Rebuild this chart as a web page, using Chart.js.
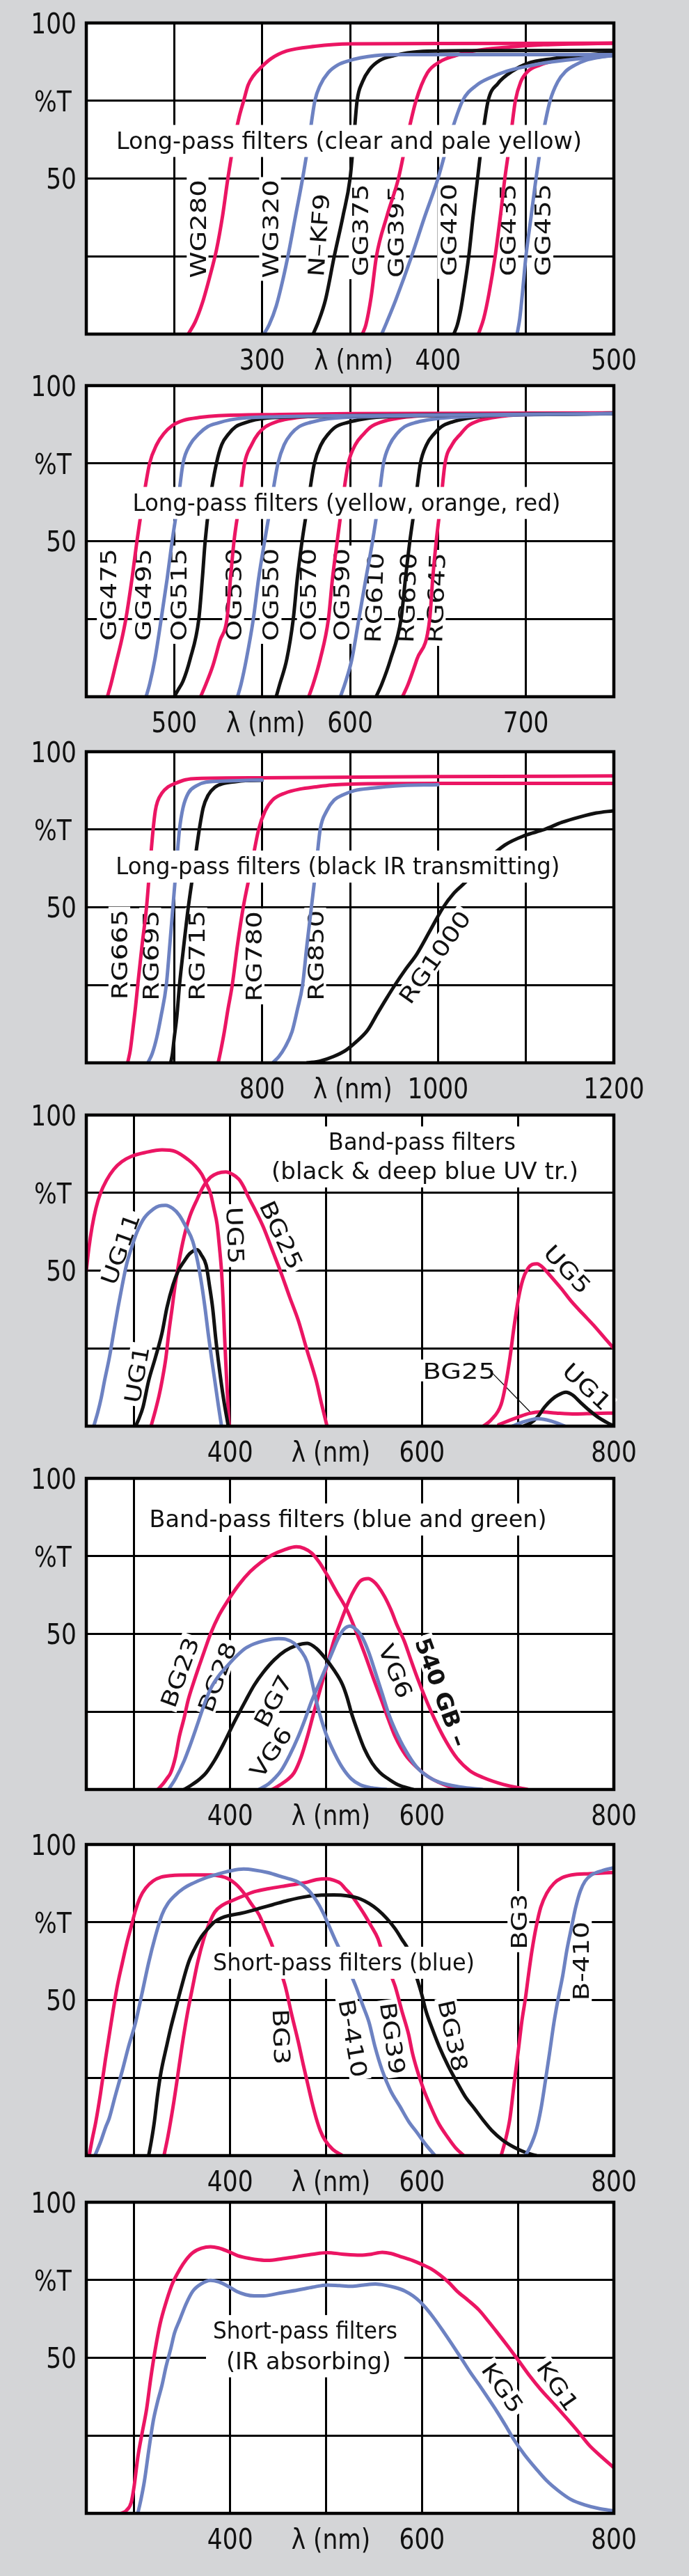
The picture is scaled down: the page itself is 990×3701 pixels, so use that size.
<!DOCTYPE html>
<html>
<head>
<meta charset="utf-8">
<script src="https://cdn.jsdelivr.net/npm/chart.js@4.4.0/dist/chart.umd.min.js"></script>
<style>
  body { margin: 0; background: #d4d5d7; width: 990px; height: 3701px; position: relative; overflow: hidden; }
  canvas { position: absolute; left: 0; }
</style>
</head>
<body>
<canvas id="p1" width="990" height="570" style="top:0px"></canvas>
<canvas id="p2" width="990" height="570" style="top:521px"></canvas>
<canvas id="p3" width="990" height="570" style="top:1047px"></canvas>
<canvas id="p4" width="990" height="570" style="top:1569px"></canvas>
<canvas id="p5" width="990" height="570" style="top:2091px"></canvas>
<canvas id="p6" width="990" height="570" style="top:2617px"></canvas>
<canvas id="p7" width="990" height="570" style="top:3131px"></canvas>
<script>
// ---- axes / tick labels ----
const Y_GRID = [0, 25, 50, 75, 100];
const Y_TICKS = [100, 75, 50];
const Y_LABELS = ['100', '%T', '50'];

const P1_GRID = [200, 250, 300, 350, 400, 450, 500];
const P1_TICKS = [300, 352, 400, 500];
const P1_TICK_LABELS = ['300', 'λ (nm)', '400', '500'];
const P2_GRID = [450, 500, 550, 600, 650, 700, 750];
const P2_TICKS = [500, 552, 600, 700];
const P2_TICK_LABELS = ['500', 'λ (nm)', '600', '700'];
const P3_GRID = [600, 700, 800, 900, 1000, 1100, 1200];
const P3_TICKS = [800, 903, 1000, 1200];
const P3_TICK_LABELS = ['800', 'λ (nm)', '1000', '1200'];
const VIS_GRID = [250, 300, 400, 500, 600, 700, 800];
const VIS_TICKS = [400, 505, 600, 800];
const VIS_TICK_LABELS = ['400', 'λ (nm)', '600', '800'];

// ---- curves: [wavelength nm, %T] ----
// long-pass, clear and pale yellow
const WG280 = [[258,0],[262,4],[266,10],[270,18],[274,27],[277.5,38],[280.5,50],[284,62],[287,70],[289.5,75],[292,80],[295,83],[299,85.5],[305,88.5],[314,91],[330,92.5],[350,93.3],[400,93.4],[500,93.5]];
const WG320 = [[301,0],[304,3],[308,9],[312,18],[315,26],[319,38],[323,50],[326.5,62],[330,75],[333,80],[337.5,84],[343,86.5],[349,87.8],[356,88.8],[364,89.5],[380,89.8],[500,89.8]];
const NKF9 = [[329,0],[332,4],[336,11],[341,25],[346,38],[350,50],[352,62],[354,75],[357,81],[361,85],[367,88],[375,89.5],[389,90.8],[420,91.1],[500,91.2]];
const GG375 = [[357,0],[359,3],[362,12],[365,25],[371,38],[377.5,50],[382,62],[387.5,75],[394,84],[401,87.5],[410,89.5],[420,91],[439,92.2],[460,93],[500,93.5]];
const GG395 = [[368,0],[371,4],[376,11],[385,25],[392,37],[400,50],[406,62],[414,75],[422,80],[430,82.5],[439,84.5],[450,86],[461,87.2],[480,88.5],[500,89.5]];
const GG420 = [[409,0],[411,3],[413,8],[415,15],[417.5,25],[420,38],[422.5,50],[425,62],[428.5,75],[434,80.5],[442,84.4],[451,87],[465,88.5],[480,89.5],[500,90.5]];
const GG435 = [[423,0],[426,5],[429,13],[432.5,25],[435.5,38],[438,50],[441,62],[444,75],[447,81],[451,84.4],[458,86.5],[466,87.8],[480,89],[500,90]];
const GG455 = [[445,0],[446.5,5],[448,13],[450,25],[453,38],[455.75,50],[459,62],[463.75,75],[468,81],[472.5,84.4],[478,86.5],[484,88],[492,89],[500,89.7]];

// long-pass, yellow orange red
const GG475 = [[462,0],[464,4],[467,11],[470,18],[472.5,25],[476,38],[478.8,50],[482,62],[486,75],[490,81],[494,84.5],[499,87.2],[505,88.8],[515,89.8],[525,90.3],[560,90.7],[600,91],[750,91.2]];
const GG495 = [[484,0],[486,4],[489,12],[492.6,25],[496,38],[498.8,50],[502,62],[505,75],[509,81],[514,84.5],[519,86.8],[525,88],[532,89],[540,89.6],[560,90],[600,90.3],[750,91]];
const OG515 = [[500,0],[502,2],[505,5],[509,12],[514,25],[516,38],[517.6,50],[520,62],[524,75],[527,81],[531,84.5],[535,86.8],[540,88],[546,89],[553,89.6],[570,90],[750,91]];
const OG530 = [[515,0],[518,4],[522,10],[526,18],[530,25],[532,38],[534,50],[537,62],[540,75],[544,81],[547.7,84.5],[552,86.8],[557.7,88.3],[565,89.3],[575,90],[600,90.5],[750,91]];
const OG550 = [[536,0],[538,4],[541,12],[545,25],[548,38],[551.4,50],[555,62],[559,75],[562.5,81],[566.5,84.5],[571,86.8],[577.7,88.2],[587,89.3],[598,89.8],[620,90.2],[750,91]];
const OG570 = [[558,0],[560,4],[564,12],[567.7,25],[570,38],[572.7,50],[576,62],[579.7,75],[583.5,81],[587.7,84.5],[592,86.8],[599,88.2],[607,89.2],[615,89.8],[640,90.3],[750,91]];
const OG590 = [[576.5,0],[579,4],[583,12],[587.7,25],[590,38],[592.7,50],[595.5,62],[599,75],[603,81],[607.8,84.5],[612,86.8],[617.8,88.3],[627,89.5],[638,90.2],[660,90.6],[750,91]];
const RG610 = [[594.5,0],[597,4],[601,12],[605,25],[609,38],[612.8,50],[616,62],[619,75],[622.5,81],[626.6,84.5],[631,86.8],[637.8,88.2],[647,89.2],[658,89.8],[680,90.4],[750,91]];
const RG630 = [[614.8,0],[618,4],[623,12],[629,25],[631.5,38],[634,50],[637,62],[640,75],[643.5,81],[647.8,84.5],[652,86.8],[658,88.3],[666,89.4],[675,90.1],[700,90.7],[750,91]];
const RG645 = [[629.8,0],[633,4],[638,12],[645.3,25],[647,38],[649,50],[651.5,62],[654,75],[658,81],[662.9,84.5],[667,87],[673,88.7],[681,89.7],[690,90.4],[710,90.8],[750,91.2]];

// long-pass, black IR transmitting
const RG665 = [[647,0],[650,4],[653.5,12],[656,18],[658.5,25],[663.5,38],[668.5,50],[672,62],[676,75],[678.5,81],[681,84],[686,86.7],[693,88.7],[701,89.8],[713,91],[726,91.4],[800,91.6],[1000,92],[1200,92.2]];
const RG695 = [[670,0],[675,3],[680,8],[685,15],[691,25],[695,38],[698.5,50],[702,62],[706,75],[710,82],[716,86.7],[725,89],[736,90.2],[760,90.6],[800,90.9]];
const RG715 = [[696,0],[698,3],[700,8],[703,15],[706,25],[711,38],[716,50],[722,62],[728.5,75],[733,82],[738.5,86],[746,88.5],[756,89.8],[770,90.4],[781,90.7],[800,90.8]];
const RG780 = [[750,0],[753,4],[757,10],[761,17],[766,25],[772,38],[778.5,50],[787,62],[796,75],[803.5,81],[812,84.5],[826,86.7],[843,88],[861,88.7],[880,89.3],[901,89.6],[1000,89.8],[1200,89.8]];
const RG850 = [[812,0],[819,2],[826,5],[834,10],[840,17],[846,25],[851,38],[856,50],[861,62],[866,75],[873.5,81],[882,84.5],[891,86],[905,87.5],[926,88.3],[951,89],[1000,89.4]];
const RG1000 = [[851,0],[866,0.6],[881,2],[895,4],[906,6.5],[920,10.5],[931,15.8],[941,20.5],[951,25],[963,30],[976,35],[991,42.5],[1006,50],[1018,54.5],[1031,58],[1053,64.5],[1076,70],[1098,73],[1121,75],[1141,77.3],[1161,79],[1180,80.3],[1199,81]];

// band-pass, black & deep blue UV transmitting
const UG5 = [[250,50],[252.6,57],[256,64],[260,70],[264.7,74.8],[271,79],[278.5,82.5],[287,85],[296.8,86.7],[312,88],[329,88.8],[342.7,88.3],[356.5,85.6],[364,83.5],[370.3,81],[375,78],[379.5,74.8],[383,70],[386.4,64.8],[389,57],[391,49.7],[393,38],[394,30],[395.5,20],[397,10.8],[399,0]];
const UG5_IR = [[664,0],[672,2],[682.5,7],[687,13],[691.7,22],[696,32],[700.9,41.6],[705,47],[710,50.5],[715,52],[720,52.2],[726,51],[733,48.6],[745,44.3],[756,40],[768,36],[779,32.4],[790,28.5],[800,25]];
const BG25 = [[317.5,0],[322,5],[326,10],[329,14.6],[333,22],[336,30],[339.5,38],[342.7,45.5],[347,53.5],[352,61],[358,67.5],[365.7,73],[372,77],[379.5,80],[387,81.3],[395.5,81.7],[402,81],[409,79.4],[414,77],[418.5,74],[426,69.5],[434.6,64],[444,56.5],[453,49.3],[462,41.5],[471,34],[480,24.5],[489.7,14.6],[495,7.5],[501,0]];
const BG25_IR = [[680,0.5],[690,1.7],[701,3],[712,4.1],[723.5,4.6],[740,4.2],[760,3.9],[780,4.1],[800,4.2]];
const UG11 = [[257.8,0],[262,4.5],[265.5,9],[269,14.6],[274,22],[278.5,30],[283,38],[287.6,45.5],[292,52],[296.8,57],[303,62.5],[310.6,67],[320,69.8],[326,70.8],[332.6,71],[340,70],[347,67.8],[354,64],[361,59.4],[366,53],[370.3,45.5],[374,37.5],[377,30],[380.5,22],[384,14.6],[387.5,7],[391,0]];
const UG11_IR = [[694,0],[705,1.3],[714,2.1],[721,2.4],[730,2],[740,1.1],[749,0]];
const UG1 = [[301.4,0],[305,2.5],[309,6],[315,14.6],[322,22],[329,30],[334,38],[340.5,45.5],[346,50],[352,53],[358,55.5],[365.7,56.7],[370,55],[375,51.7],[378.5,45],[381.8,37.8],[385,28],[388.7,18.5],[393,9],[398,0]];
const UG1_IR = [[706,0],[713,1],[720,2.8],[728,6.2],[735,8.5],[742,10],[750,10.9],[757,10],[765,7.7],[774,5.2],[783,3],[792,1.3],[800,0]];
const BG25_LEADER = [[672.9,17.2],[713.6,4.3]];

// band-pass, blue and green
const BG23 = [[324.4,0],[330,1.8],[334,3.5],[338,5.4],[343,10.5],[347,17],[352,23],[356,28.5],[362,34.5],[368,40],[374,45.3],[379.5,50],[388,55.8],[397.8,60.8],[409,65.8],[420.8,70],[432,73],[443.8,75.4],[456,77],[469,78],[477,77.5],[485,76],[493,73],[501,69],[511,63.5],[521.8,57.7],[531,51],[540,43.8],[549,36],[558,28.5],[565,22.5],[572,17],[583,11],[595,7],[606,4.2],[617.5,2.3],[628,1],[640,0]];
const BG28 = [[335.8,0],[343,3.5],[352,9.2],[358,14],[365.7,20.8],[372,26.5],[379.5,32.3],[388,36.5],[397.8,40],[407,43],[416,45.4],[425,46.8],[435,47.8],[450.6,48.5],[458,48.3],[466.7,47],[474,44.5],[480.5,40.8],[485,35],[489.7,28.5],[495,22.5],[501,17],[509,11.5],[517,7],[526,3.5],[535.6,1.5],[548,0.5],[563,0]];
const BG7 = [[352,0],[360,1.5],[368,3.3],[375,5.4],[384,9.5],[393,14.6],[404,21.5],[416,28.5],[425,33.5],[434.6,37.7],[446,41.7],[457.5,44.6],[469,46.3],[480.5,47],[490,45.3],[498.8,42.3],[508,38.5],[517,33.8],[522,29.5],[526.4,24.6],[532,19.5],[540,13],[548,8.5],[556,5.5],[563,3.8],[575,1.5],[590.6,0]];
const VG6 = [[430,0],[440,1.8],[447,3.8],[453,6],[462,11],[471,17],[478,22.5],[485,28.5],[492,33.5],[498.8,38.5],[506,43.8],[512.6,48.5],[518,51.3],[525,52.5],[530,51.8],[535.6,50],[540,47.5],[544.8,43.8],[551,38],[558.5,30.8],[565,24.5],[572,19.2],[583,12.5],[595,7],[606,4.2],[618,2.3],[640,0.8],[663,0]];
const GB540 = [[443.8,0],[452,1.5],[460,3.2],[466.7,5.4],[474,10.5],[480.5,17],[487,24.5],[494,32.3],[501,40],[508,47.7],[516,54.5],[524,60.8],[530,64.5],[535.6,67],[544,67.8],[549,67],[554,65.4],[561,62],[567.7,57.7],[574,52.8],[581.5,47.7],[588,42],[595,36],[604,29],[613.6,22.3],[625,15.5],[636.6,10],[650,6],[664,3.8],[685,1.6],[710,0]];

// short-pass, blue
const BG3 = [[253,0],[256,5],[260,11],[264.7,19.7],[270,31],[276,42.8],[282,54],[287.6,62],[292,68],[296.8,73.6],[301,78.5],[306,82.9],[312,86],[319.8,88.3],[328,89.5],[338,90],[360,90.2],[379.5,90.2],[390,89.8],[398,89],[405,87.5],[410,86],[416,83.7],[423,80.5],[430,77.5],[437,72.5],[443.8,67.5],[450,61.5],[457.5,54.4],[464,45.5],[471,36.6],[476,29.5],[480.5,23.5],[485,17.5],[489.7,12],[494,8],[498.8,5],[507,2],[517,0]];
const BG3_IR = [[682.5,0],[687,5],[691.7,12],[696,23],[700.9,35],[704,43],[707.8,50.5],[711,58],[714.7,66],[719,73.5],[723.8,79.8],[730,84.3],[737.6,87.5],[746,89.3],[756,90.2],[775,90.6],[800,91]];
const B410 = [[259,0],[265,4.5],[270,9],[273.9,12],[280,19],[287.6,27.4],[294,35],[301.4,42.8],[308,52],[315,62],[322,70.5],[329,77.5],[335,81],[342.7,83.7],[351,85.8],[361,87.5],[374,89.2],[388.7,90.6],[400,91.5],[414,92.1],[425,91.8],[439,91],[455,89.5],[471,87.9],[481,85.5],[489.7,82],[497,78],[503.4,73.6],[510,69],[517,64.4],[524,59.5],[531,54.4],[538,48.5],[544.8,42.8],[551,35],[558.5,27.4],[567,21],[577,15.8],[586,11],[595,7.3],[604,3.5],[613.6,0]];
const B410_IR = [[707.8,0],[713,3],[719,8],[724,15],[728.4,23.5],[733,33],[737.6,42.8],[742,50.5],[746.8,58],[751,66],[756,73.6],[760,79.5],[765,85],[770,88.2],[776.6,90.2],[788,91.6],[800,92.5]];
const BG39 = [[331,0],[335,6],[340.5,15.8],[345,25],[349.7,35],[355,45],[361,54.4],[366,62],[372.6,69.8],[378,74.5],[384,78.3],[392,80.5],[402.4,82],[414,83.5],[425,84.8],[440,85.8],[457.5,86.7],[470,87.3],[480.5,87.9],[490,88.7],[501,89],[508,88.5],[515,87.5],[520,85.8],[526.4,83.7],[533,80.8],[540,77.5],[547,73.8],[554,69.8],[558,66],[563,62],[567,58.5],[572,54.4],[579,46.5],[586,39],[590,33],[595,27.4],[602,21],[609,15.8],[617,10.5],[627,5.8],[635,2.5],[643.5,0]];
const BG38 = [[315,0],[318,5],[321,11],[324.4,19.7],[328,27],[333.6,35],[338,41],[342.7,46.6],[349,54],[356.5,62],[363,66.5],[370.3,70.5],[377,73],[384,75.2],[391,76.4],[398,77.1],[410,77.8],[420.8,78.6],[432,79.6],[443.8,80.6],[460,82],[480.5,83.3],[495,83.7],[508,83.8],[522,83.5],[535.6,82.5],[545,81],[554,79],[563,76.3],[572,72.9],[579,69.5],[586,65.9],[590,61.5],[595,56.7],[600,51.5],[604,46.6],[611,40.5],[618,35],[627,29],[636.6,23.5],[645,19],[655,15],[664,11.3],[673,8],[684,5],[696,2.7],[708,1],[719,0]];

// short-pass, IR absorbing
const KG1 = [[286.7,0],[292,1],[296.8,3.5],[300,9],[303.7,18],[308,25.5],[312.9,33.6],[317,43],[322,52.9],[327,61],[333.6,68.3],[340,74],[347.4,78.4],[354,81.5],[361,83.8],[370,85.2],[379.5,85.7],[388,85.3],[397.8,84.2],[408,82.8],[420.8,81.9],[430,81.5],[439,81.3],[455,81.9],[471,82.6],[486,83.3],[501,83.8],[518,83.3],[535.6,83],[547,83.3],[558.5,83.9],[568,83.5],[577,82.6],[590,81.3],[600,80],[610,78.5],[618,76.8],[628,74.2],[636.6,71.4],[648,68.5],[659.6,65.3],[669,61.8],[678,58.3],[690,53.5],[700.9,49],[712,44.3],[723.8,39.8],[738,35],[751,30.5],[763,26.2],[774,22],[787,18.2],[800,14.7]];
const KG5 = [[303.7,0],[307,4.5],[310.6,10.4],[315,20],[319.8,29.7],[324,35.5],[329,41.3],[333,47],[338,52.9],[342,58],[347.4,62.2],[354,67.3],[361,71.4],[370,73.8],[379.5,74.9],[388,74.4],[397.8,73],[407,71.3],[416,70.3],[425,69.9],[434.6,69.9],[452,70.8],[471,71.8],[486,72.7],[501,73.4],[514,73.2],[526.4,73],[539,73.4],[551.5,73.7],[562,73.3],[572,72.6],[582,71.5],[590.6,69.9],[598,68],[604,66],[613,62.5],[622.6,58.3],[632,54],[641,49.8],[650,45.5],[659.6,41.3],[669,37],[678,32.8],[687,28.3],[696,23.6],[707,18.8],[719,14.3],[730,10.5],[742,7.3],[755,4.5],[769.7,2.7],[785,1.5],[800,0.8]];

// ---- annotations: [text, nm, %T, rotation] ----
const P1_LABELS = [['WG280',263.3,33.8,-90],['WG320',304.5,33.8,-90],['N–KF9',332,31.8,-86],['GG375',355.5,33.4,-90],['GG395',375.7,33,-90],['GG420',405.8,33.5,-90],['GG435',439.4,33.5,-90],['GG455',459.4,33.5,-90]];
const P2_LABELS = [['GG475',462.2,32.8,-90],['GG495',482.2,32.8,-90],['OG515',502.2,32.8,-90],['OG530',533.5,32.8,-90],['OG550',554.8,32.8,-90],['OG570',576,32.8,-90],['OG590',594.8,32.8,-90],['RG610',613.6,31.8,-88],['RG630',632.3,31.8,-88],['RG645',648.6,31.8,-88]];
const P3_LABELS = [['RG665',637.6,34.8,-90],['RG695',672.7,34.5,-90],['RG715',725.2,34.5,-90],['RG780',790.2,34.2,-90],['RG850',860.4,34.5,-90],['RG1000',996,34,-55]];
const P4_LABELS = [['UG11',285.3,57,-70],['UG1',302.3,16.6,-80],['UG5',405.5,61.3,88],['BG25',453.7,61.5,65],['UG5',751.9,50.5,47],['UG1',772.2,12.8,43],['BG25',638.7,17.9,0]];
const P5_LABELS = [['BG23',347.2,37.7,-70],['BG28',386.2,36.2,-70],['BG7',444.5,28.5,-62],['VG6',442.2,12,-55],['VG6',572.9,38.1,68],['540 GB –',620.6,31.3,70]];
const P6_LABELS = [['BG3',453.7,38.2,88],['B-410',528.4,37.7,80],['BG39',569.7,37.7,82],['BG38',632.6,38.6,78],['BG3',700.5,75.2,-90],['B-410',765.6,62.5,-90]];
const P7_LABELS = [['KG5',684.4,40.4,55],['KG1',741.8,41,55]];

// titles: [text, nm, %T, printed width px]
const P1_TITLE = [['Long-pass filters (clear and pale yellow)',349.4,62.3,669]];
const P2_TITLE = [['Long-pass filters (yellow, orange, red)',598,62.5,615]];
const P3_TITLE = [['Long-pass filters (black IR transmitting)',886,63.3,638]];
const P4_TITLE = [['Band-pass filters',600,91.4,269],['(black & deep blue UV tr.)',603,82.1,441]];
const P5_TITLE = [['Band-pass filters (blue and green)',522.9,87,571]];
const P6_TITLE = [['Short-pass filters (blue)',518.5,62.2,376]];
const P7_TITLE = [['Short-pass filters',478.2,58.8,265],['(IR absorbing)',481.8,49.1,237]];

// ---- styles ----
const RED = '#eb1563', BLUE = '#6d82c2', BLACK = '#111111';
const FONT = '"DejaVu Sans", "Liberation Sans", sans-serif';
const CAP = 0.73;

function text(ctx, s, x, y, o) {
  ctx.save();
  ctx.translate(x, y);
  if (o.rot) ctx.rotate(o.rot * Math.PI / 180);
  ctx.font = (o.weight || 'normal') + ' ' + o.size + 'px ' + FONT;
  ctx.textAlign = o.align || 'center';
  ctx.textBaseline = 'alphabetic';
  const raw = ctx.measureText(s).width;
  const k = o.fit ? o.fit / raw : (o.sx || 1);
  ctx.scale(k, 1);
  const w = raw, h = o.size * CAP;
  if (o.pad != null) {
    ctx.fillStyle = '#fff';
    ctx.fillRect(-w / 2 - o.pad / k, -h / 2 - o.pad, w + 2 * o.pad / k, h + 2 * o.pad);
  }
  ctx.fillStyle = '#111';
  ctx.fillText(s, 0, h / 2);
  ctx.restore();
}

const filterText = {
  id: 'filterText',
  beforeDraw(chart) {
    const a = chart.chartArea, ctx = chart.ctx;
    ctx.save();
    ctx.fillStyle = '#fff';
    ctx.fillRect(a.left, a.top, a.right - a.left, a.bottom - a.top);
    ctx.restore();
  },
  beforeDatasetsDraw(chart, args, o) {
    const sx = chart.scales.x, sy = chart.scales.y, ctx = chart.ctx;
    o.labels.forEach(l => {
      const bold = l[0].startsWith('540');
      text(ctx, l[0], sx.getPixelForValue(l[1]), sy.getPixelForValue(l[2]),
        { size: 32, rot: l[3], pad: 4, weight: bold ? 'bold' : 'normal', sx: bold ? 1.05 : 1.2 });
    });
  },
  afterDatasetsDraw(chart, args, o) {
    const sx = chart.scales.x, sy = chart.scales.y, ctx = chart.ctx;
    const size = 33, h = size * CAP;
    const wMax = Math.max.apply(null, o.title.map(t => t[3]));
    const cx = sx.getPixelForValue(o.title[0][1]);
    const y0 = sy.getPixelForValue(o.title[0][2]) - h / 2 - 10;
    const y1 = sy.getPixelForValue(o.title[o.title.length - 1][2]) + h / 2 + 12;
    ctx.save();
    ctx.fillStyle = '#fff';
    ctx.fillRect(cx - wMax / 2 - 10, y0, wMax + 20, y1 - y0);
    ctx.restore();
    o.title.forEach(t => text(ctx, t[0], sx.getPixelForValue(t[1]), sy.getPixelForValue(t[2]), { size: size, fit: t[3] }));
  },
  afterDraw(chart, args, o) {
    const a = chart.chartArea, ctx = chart.ctx, sx = chart.scales.x, sy = chart.scales.y;
    ctx.save();
    ctx.strokeStyle = '#000';
    ctx.lineWidth = 4.5;
    ctx.strokeRect(a.left, a.top, a.right - a.left, a.bottom - a.top);
    ctx.restore();
    o.xTicks.forEach((v, i) => text(ctx, o.xLabels[i], sx.getPixelForValue(v), a.bottom + 36, { size: 41, sx: 0.84 }));
    Y_TICKS.forEach((v, i) => {
      const s = Y_LABELS[i];
      const num = !isNaN(+s);
      text(ctx, s, num ? 110 : 49, sy.getPixelForValue(v), { size: 41, sx: 0.84, align: num ? 'right' : 'left' });
    });
  }
};

function line(pts, color, width) {
  return {
    data: pts.map(p => ({ x: p[0], y: p[1] })),
    borderColor: color,
    borderWidth: width || 5,
    pointRadius: 0,
    fill: false,
    cubicInterpolationMode: 'monotone',
    borderCapStyle: 'round',
    borderJoinStyle: 'round'
  };
}

function panel(id, grid, ticks, tickLabels, series, labels, title) {
  new Chart(document.getElementById(id), {
    type: 'line',
    data: { datasets: series },
    options: {
      responsive: false,
      animation: false,
      events: [],
      layout: { padding: { left: 0, right: 108, top: 33, bottom: 0 } },
      plugins: {
        legend: { display: false },
        tooltip: { enabled: false },
        filterText: { labels: labels, title: title, xTicks: ticks, xLabels: tickLabels }
      },
      scales: {
        x: {
          type: 'linear', min: grid[0], max: grid[grid.length - 1],
          afterBuildTicks: s => { s.ticks = grid.map(v => ({ value: v })); },
          afterFit: s => { s.height = 570 - 33 - 447; },
          ticks: { display: false },
          grid: { color: '#000', lineWidth: 3, drawTicks: false },
          border: { display: false }
        },
        y: {
          type: 'linear', min: 0, max: 100,
          afterBuildTicks: s => { s.ticks = Y_GRID.map(v => ({ value: v })); },
          afterFit: s => { s.width = 124; },
          ticks: { display: false },
          grid: { color: '#000', lineWidth: 3, drawTicks: false },
          border: { display: false }
        }
      }
    },
    plugins: [filterText]
  });
}

panel('p1', P1_GRID, P1_TICKS, P1_TICK_LABELS,
  [line(WG280, RED), line(WG320, BLUE), line(NKF9, BLACK), line(GG375, RED), line(GG395, BLUE), line(GG420, BLACK), line(GG435, RED), line(GG455, BLUE)],
  P1_LABELS, P1_TITLE);
panel('p2', P2_GRID, P2_TICKS, P2_TICK_LABELS,
  [line(GG495, BLUE), line(OG515, BLACK), line(OG550, BLUE), line(OG570, BLACK), line(RG610, BLUE), line(RG630, BLACK), line(GG475, RED), line(OG530, RED), line(OG590, RED), line(RG645, RED)],
  P2_LABELS, P2_TITLE);
panel('p3', P3_GRID, P3_TICKS, P3_TICK_LABELS,
  [line(RG695, BLUE), line(RG715, BLACK), line(RG850, BLUE), line(RG1000, BLACK), line(RG780, RED), line(RG665, RED)],
  P3_LABELS, P3_TITLE);
panel('p4', VIS_GRID, VIS_TICKS, VIS_TICK_LABELS,
  [line(UG11, BLUE), line(UG11_IR, BLUE), line(UG1, BLACK), line(UG1_IR, BLACK), line(UG5, RED), line(UG5_IR, RED), line(BG25, RED), line(BG25_IR, RED), line(BG25_LEADER, BLACK, 1.3)],
  P4_LABELS, P4_TITLE);
panel('p5', VIS_GRID, VIS_TICKS, VIS_TICK_LABELS,
  [line(BG28, BLUE), line(BG7, BLACK), line(VG6, BLUE), line(BG23, RED), line(GB540, RED)],
  P5_LABELS, P5_TITLE);
panel('p6', VIS_GRID, VIS_TICKS, VIS_TICK_LABELS,
  [line(B410, BLUE), line(B410_IR, BLUE), line(BG38, BLACK), line(BG3, RED), line(BG3_IR, RED), line(BG39, RED)],
  P6_LABELS, P6_TITLE);
panel('p7', VIS_GRID, VIS_TICKS, VIS_TICK_LABELS,
  [line(KG5, BLUE), line(KG1, RED)],
  P7_LABELS, P7_TITLE);
</script>
</body>
</html>
